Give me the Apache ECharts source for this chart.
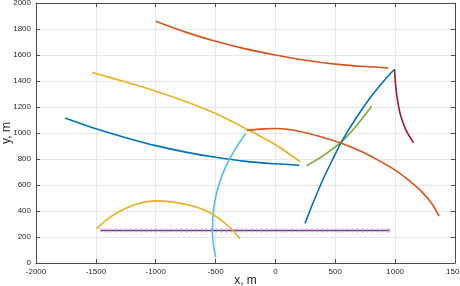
<!DOCTYPE html>
<html>
<head>
<meta charset="utf-8">
<script src="https://cdn.jsdelivr.net/npm/echarts@6/dist/echarts.min.js"></script>
<style>html,body{margin:0;padding:0;background:#fff}#c{width:460px;height:286px}</style>
</head>
<body>
<div id="c"></div>
<script>
// Data (x, y in metres)
var xTicks = [-2000, -1500, -1000, -500, 0, 500, 1000, 1500];
var yTicks = [0, 200, 400, 600, 800, 1000, 1200, 1400, 1600, 1800, 2000];

var blueUpper = [[-1757,1115],[-1500,1032],[-1250,964],[-1000,903],[-750,853],[-500,813],[-250,782],[0,763],[200,752]];
var orangeTop = [[-1000,1860],[-750,1776],[-500,1705],[-250,1647],[0,1600],[250,1560],[500,1530],[750,1511],[943,1500]];
var yellowTop = [[-1530,1465],[-1250,1392],[-1000,1322],[-750,1243],[-500,1150],[-250,1035],[0,910],[207,779]];
var purpleX = [-1458,-1416,-1374,-1332,-1290,-1248,-1206,-1164,-1122,-1080,-1038,-996,-954,-912,-870,-828,-786,-744,-702,-660,-618,-576,-534,-492,-450,-408,-366,-324,-282,-240,-198,-156,-114,-72,-30,12,54,96,138,180,222,264,306,348,390,432,474,516,558,600,642,684,726,768,810,852,894,936,950];
var purpleY = 250;
var green = [[261,748],[400,826],[553,933],[680,1060],[804,1208]];
var lightBlue = [[-250,995],[-318,900],[-388,792],[-443,680],[-485,561],[-507,470],[-520,382],[-526,254],[-516,125],[-499,44]];
var darkRed = [[995,1490],[1003,1380],[1015,1280],[1041,1151],[1070,1070],[1097,1010],[1153,925]];
var blueDiag = [[247,305],[320,475],[400,648],[480,800],[553,933],[670,1110],[790,1270],[900,1395],[995,1490]];
var orangeArc = [[-240,1020],[-100,1032],[0,1035],[130,1025],[261,1000],[400,965],[540,925],[700,865],[850,795],[1000,715],[1100,648],[1200,568],[1300,465],[1367,361]];
var yellowArc = [[-1495,265],[-1400,340],[-1300,398],[-1150,455],[-1000,478],[-850,468],[-700,440],[-600,410],[-525,375],[-440,320],[-360,254],[-296,187]];

var C = {blue:'#0072BD', orange:'#D95319', yellow:'#EDB120', purple:'#7E2F8E', green:'#77AC30', lblue:'#4DBEEE', red:'#A2142F'};
var FONT = 'Liberation Sans';

function line(data, color, extra) {
  var s = {type:'line', data:data, showSymbol:false, smooth:0.3, animation:false,
    lineStyle:{color:color, width:1.6}, itemStyle:{color:color}, silent:true};
  if (extra) for (var k in extra) s[k] = extra[k];
  return s;
}

var purpleData = purpleX.map(function(x){return [x, purpleY];});

var axisCommon = {
  axisLine:{show:true, onZero:false, lineStyle:{color:'#4d4d4d', width:1}},
  axisTick:{show:true, inside:true, length:4, lineStyle:{color:'#4d4d4d'}},
};

var chart = echarts.init(document.getElementById('c'), null, {renderer:'canvas'});
chart.setOption({
  animation:false,
  grid:{left:36, right:5, top:3, bottom:23, containLabel:false, outerBoundsMode:'none'},
  xAxis:[
    Object.assign({type:'value', min:-2000, max:1500, interval:500, position:'bottom',
      name:'x, m', nameLocation:'middle', nameGap:12, nameMoveOverlap:false,
      nameTextStyle:{fontFamily:FONT, fontSize:12, color:'#262626'},
      axisLabel:{fontFamily:FONT, fontSize:8, color:'#262626', margin:5,
        formatter:function(v){return xTicks.indexOf(v)>=0 ? String(v) : '';}},
      splitLine:{show:true, lineStyle:{color:'#e8e8e8', width:1}}}, axisCommon),
    Object.assign({type:'value', min:-2000, max:1500, interval:500, position:'top',
      axisLabel:{show:false}, splitLine:{show:false}}, axisCommon)
  ],
  yAxis:[
    Object.assign({type:'value', min:0, max:2000, interval:200, position:'left',
      name:'y, m', nameLocation:'middle', nameGap:23, nameMoveOverlap:false,
      nameTextStyle:{fontFamily:FONT, fontSize:12, color:'#262626'},
      axisLabel:{fontFamily:FONT, fontSize:8, color:'#262626', margin:5,
        formatter:function(v){return yTicks.indexOf(v)>=0 ? String(v) : '';}},
      splitLine:{show:true, lineStyle:{color:'#e8e8e8', width:1}}}, axisCommon),
    Object.assign({type:'value', min:0, max:2000, interval:200, position:'right',
      axisLabel:{show:false}, splitLine:{show:false}}, axisCommon)
  ],
  series:[
    line(blueUpper, C.blue),
    line(orangeTop, C.orange),
    line(yellowTop, C.yellow),
    line(purpleData, C.purple, {smooth:false, showSymbol:true, symbol:'rect', symbolSize:[1,4],
      itemStyle:{color:'#b98cc4'}, lineStyle:{color:C.purple, width:1.6}}),
    line(green, C.green),
    line(lightBlue, C.lblue),
    line(darkRed, C.red),
    line(blueDiag, C.blue),
    line(orangeArc, C.orange),
    line(yellowArc, C.yellow)
  ]
});
</script>
</body>
</html>
